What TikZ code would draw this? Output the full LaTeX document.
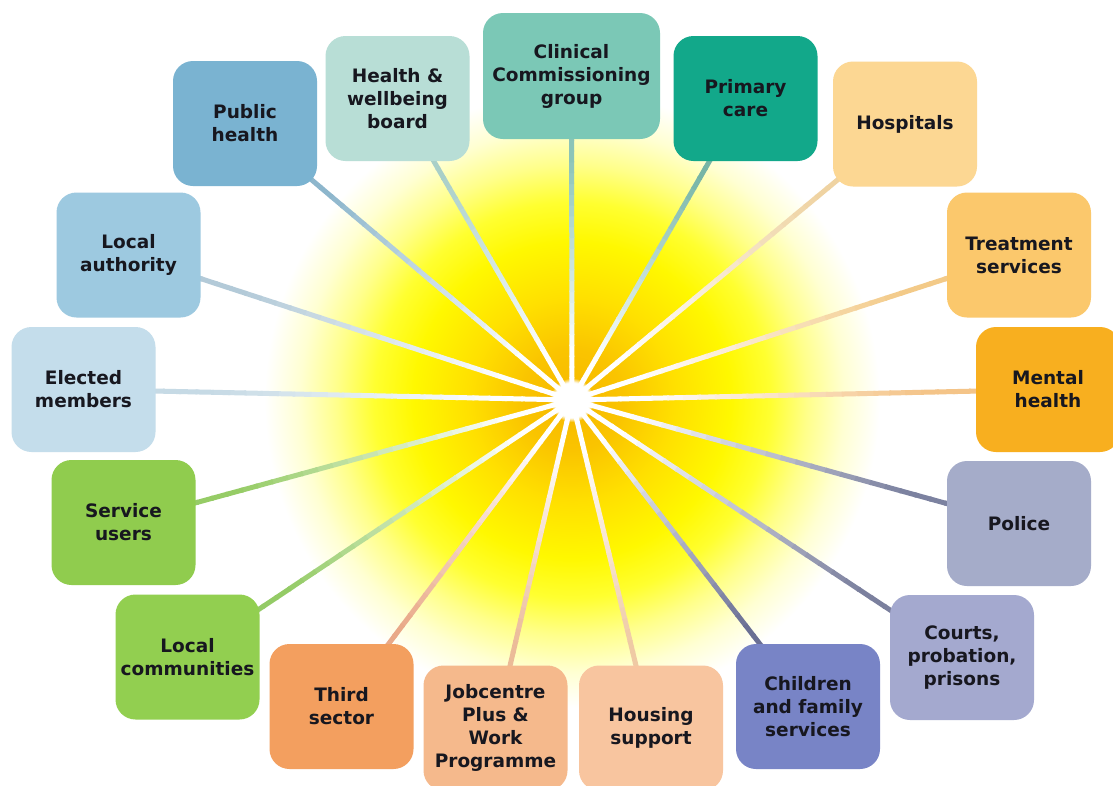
\documentclass[tikz,border=0pt]{standalone}
\usepackage{fontspec}
\setmainfont{DejaVu Sans}
\usetikzlibrary{calc,fadings}

% box fills
\definecolor{cPH}{HTML}{7AB3D1}
\definecolor{cHW}{HTML}{B8DED6}
\definecolor{cCCG}{HTML}{7BC8B6}
\definecolor{cPC}{HTML}{12A88A}
\definecolor{cHO}{HTML}{FCD793}
\definecolor{cTS}{HTML}{FBC86C}
\definecolor{cMH}{HTML}{F8AF1F}
\definecolor{cPO}{HTML}{A5ACC9}
\definecolor{cCP}{HTML}{A4A9CF}
\definecolor{cCF}{HTML}{7884C6}
\definecolor{cHS}{HTML}{F8C59F}
\definecolor{cJP}{HTML}{F5B98C}
\definecolor{cTH}{HTML}{F39F5F}
\definecolor{cLC}{HTML}{92CF50}
\definecolor{cSU}{HTML}{90CC4E}
\definecolor{cEM}{HTML}{C4DDEB}
\definecolor{cLA}{HTML}{9DC9E0}
% spoke colours at the box end
\definecolor{sPH}{HTML}{8DB6CC}
\definecolor{sHW}{HTML}{A9CFC8}
\definecolor{sCCG}{HTML}{8CC4B8}
\definecolor{sPC}{HTML}{76B5A6}
\definecolor{sHO}{HTML}{EFD3A2}
\definecolor{sTS}{HTML}{F3CA88}
\definecolor{sMH}{HTML}{F4C488}
\definecolor{sPO}{HTML}{7C82A0}
\definecolor{sCP}{HTML}{7B809E}
\definecolor{sCF}{HTML}{6A6F94}
\definecolor{sHS}{HTML}{EFCAA4}
\definecolor{sJP}{HTML}{EBBB98}
\definecolor{sTH}{HTML}{E9A988}
\definecolor{sLC}{HTML}{94CB66}
\definecolor{sSU}{HTML}{96CC66}
\definecolor{sEM}{HTML}{C6DAE5}
\definecolor{sLA}{HTML}{B3CAD8}
\definecolor{txt}{HTML}{17171F}
% sun glow stops
\definecolor{g0}{HTML}{F6B800}
\definecolor{g1}{HTML}{FAC400}
\definecolor{g2}{HTML}{FFE000}
\definecolor{g3}{HTML}{FFF800}
\definecolor{g4}{HTML}{FFFF30}
\definecolor{g5}{HTML}{FFFF8A}
\definecolor{g6}{HTML}{FFFFD2}

% the path's bounding box covers -25bp..25bp of the shading
\pgfdeclareradialshading{sunglow}{\pgfpoint{0bp}{0bp}}{%
  color(0bp)=(g0); color(3.8bp)=(g1); color(7.8bp)=(g2);
  color(12bp)=(g3); color(15bp)=(g4); color(17.8bp)=(g5);
  color(20.6bp)=(g6); color(23.3bp)=(white); color(50bp)=(white)}

\pgfdeclarelayer{glowlayer}
\pgfdeclarelayer{spokelayer}
\pgfsetlayers{glowlayer,spokelayer,main}

\tikzset{
  box/.style={rectangle, rounded corners=20pt, minimum width=144pt,
    minimum height=125pt, inner sep=0pt, align=center, text=txt,
    font=\fontsize{18.5}{23}\selectfont\bfseries},
  widebox/.style={box, minimum width=177pt, minimum height=126pt},
  spoke/.style={line width=5pt},
}

\begin{document}
\begin{tikzpicture}[x=1pt,y=-1pt]
\useasboundingbox (0,0) rectangle (1113,785);

\coordinate (hub) at (572,400);

% stakeholder boxes, clockwise from the top left
\node[box, fill=cPH]      (ph)  at (245,123.5)  {Public\\health};
\node[box, fill=cHW]      (hw)  at (397.5,98.5) {Health \&\\wellbeing\\board};
\node[widebox, fill=cCCG] (ccg) at (571.5,76)   {Clinical\\Commissioning\\group};
\node[box, fill=cPC]      (pc)  at (745.5,98.5) {Primary\\care};
\node[box, fill=cHO]      (ho)  at (905,124)    {Hospitals};
\node[box, fill=cTS]      (ts)  at (1019,255)   {Treatment\\services};
\node[box, fill=cMH]      (mh)  at (1048,389.5) {Mental\\health};
\node[box, fill=cPO]      (po)  at (1019,523.5) {Police};
\node[box, fill=cCP]      (cp)  at (962,657.5)  {Courts,\\probation,\\prisons};
\node[box, fill=cCF]      (cf)  at (808,706.5)  {Children\\and family\\services};
\node[box, fill=cHS]      (hs)  at (651,728)    {Housing\\support};
\node[box, fill=cJP]      (jp)  at (495.5,728)  {Jobcentre\\Plus \&\\Work\\Programme};
\node[box, fill=cTH]      (th)  at (341.5,706.5){Third\\sector};
\node[box, fill=cLC]      (lc)  at (187.5,657)  {Local\\communities};
\node[box, fill=cSU]      (su)  at (123.5,522.5){Service\\users};
\node[box, fill=cEM]      (em)  at (83.5,389.5) {Elected\\members};
\node[box, fill=cLA]      (la)  at (128.5,255)  {Local\\authority};

% white page and the yellow glow behind everything
\begin{pgfonlayer}{glowlayer}
  \fill[white] (0,0) rectangle (1113,785);
  \shade[shading=sunglow] (hub) circle[radius=330pt];
\end{pgfonlayer}

% spokes: white at the hub, shading into each box's colour
\begin{pgfonlayer}{spokelayer}
  \foreach \n/\c in {ph/sPH, hw/sHW, ccg/sCCG, pc/sPC, ho/sHO, ts/sTS,
      mh/sMH, po/sPO, cp/sCP, cf/sCF, hs/sHS, jp/sJP, th/sTH, lc/sLC,
      su/sSU, em/sEM, la/sLA}{
    \foreach \i in {0,...,29}{
      \pgfmathsetmacro\ta{\i/30}
      \pgfmathsetmacro\tb{(\i+1)/30+0.004}
      \pgfmathtruncatemacro\p{max(0,min(100,100*(\ta-0.12)/0.6))}
      \draw[spoke, draw=\c!\p!white] ($(hub)!\ta!(\n)$) -- ($(hub)!\tb!(\n)$);
    }
  }
  \fill[white, path fading=circle with fuzzy edge 20 percent]
    (hub) circle[radius=22pt];
\end{pgfonlayer}
\end{tikzpicture}
\end{document}
